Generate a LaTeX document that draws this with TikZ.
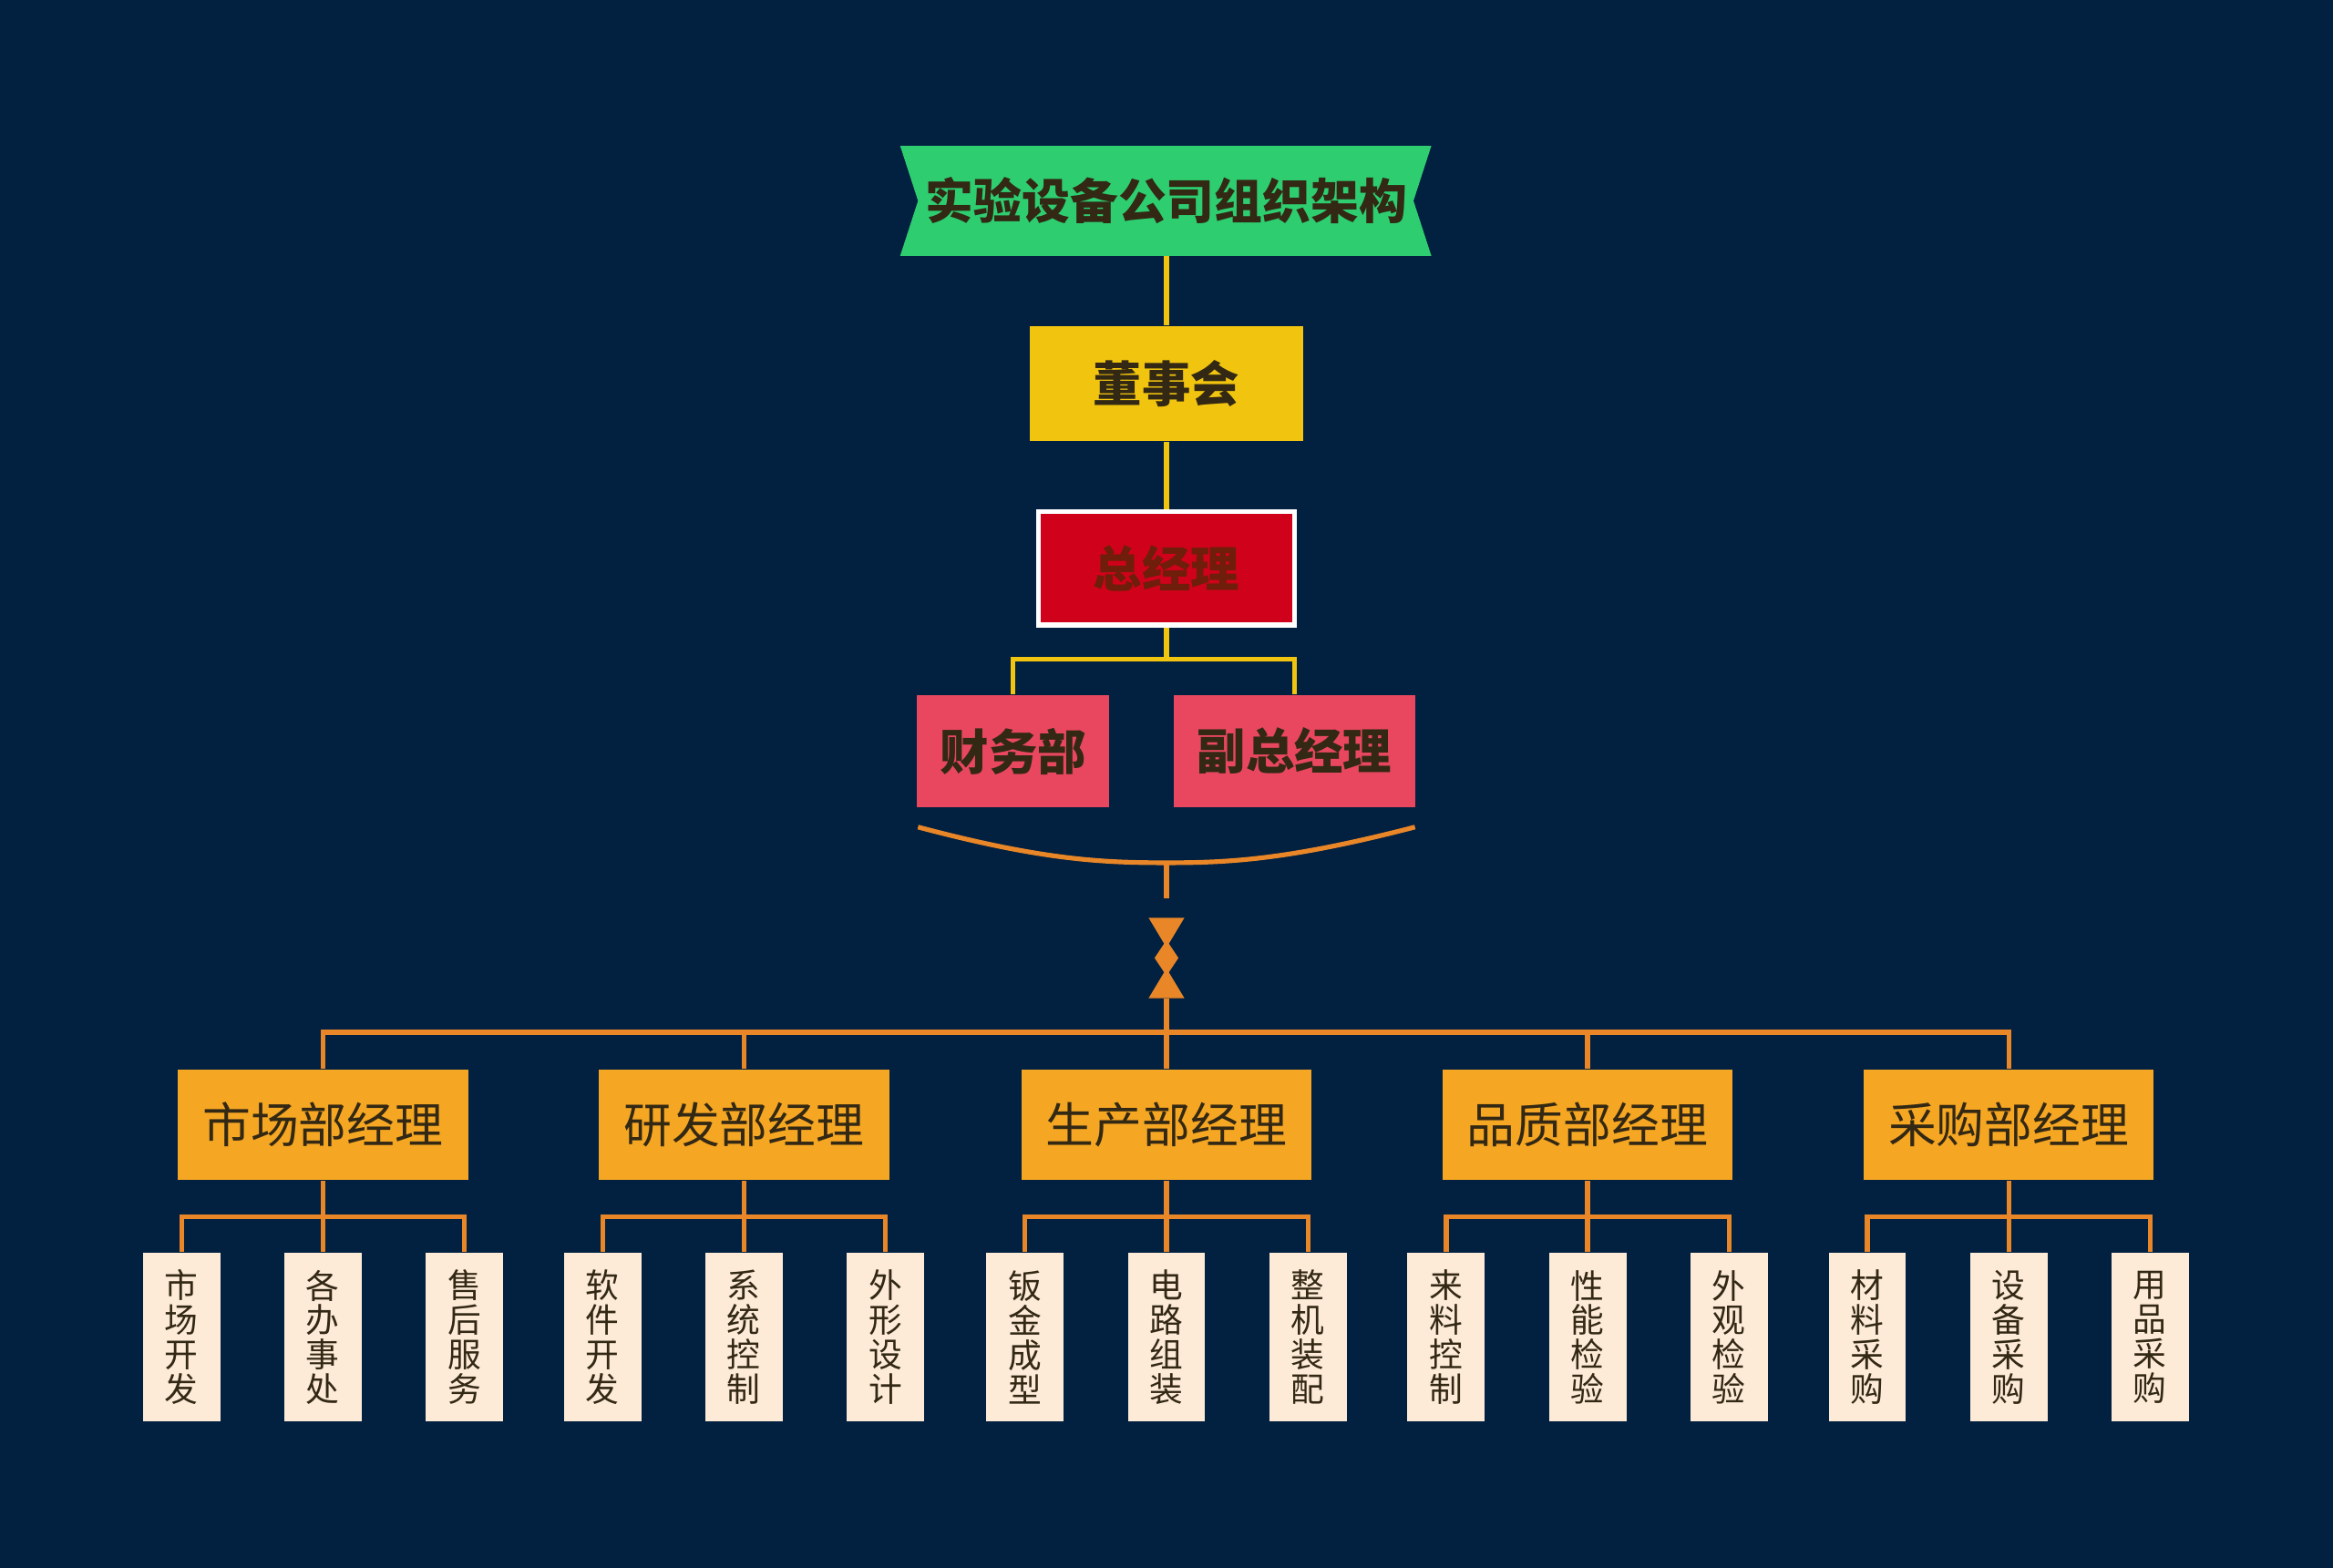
\documentclass[tikz,border=0pt]{standalone}
\usepackage{fontspec}
\setmainfont{Noto Sans CJK SC}
\usetikzlibrary{positioning}
\definecolor{bgnavy}{RGB}{2,32,64}
\definecolor{titlegreen}{RGB}{46,206,112}
\definecolor{boardyellow}{RGB}{241,196,15}
\definecolor{gmred}{RGB}{208,2,27}
\definecolor{vpred}{RGB}{232,71,95}
\definecolor{mgrorange}{RGB}{245,166,35}
\definecolor{lineorange}{RGB}{232,134,40}
\definecolor{leafcream}{RGB}{253,235,216}
\definecolor{textdark}{RGB}{50,40,20}
\tikzset{
  topbox/.style={draw=none, minimum width=1.84cm, minimum height=0.77cm, inner sep=0pt, font=\bfseries\fontsize{9.3}{11}\selectfont, text=textdark},
  mgrbox/.style={fill=mgrorange, minimum width=1.95cm, minimum height=0.74cm, inner sep=0pt, font=\fontsize{9.2}{11}\selectfont, text=textdark},
  leafbox/.style={fill=leafcream, minimum width=0.52cm, minimum height=1.13cm, inner sep=0pt, align=center, font=\fontsize{6.4}{6.6}\selectfont, text=textdark},
  yline/.style={draw=boardyellow, line width=0.9pt},
  oline/.style={draw=lineorange, line width=0.9pt}
}
\begin{document}
\begin{tikzpicture}[x=0.01cm, y=-0.01cm]

% Background
\fill[bgnavy] (0,0) rectangle (1568,1054);
\useasboundingbox (0,0) rectangle (1568,1054);

% Title ribbon
\fill[titlegreen] (605,98) -- (962,98) -- (950,135) -- (962,172) -- (605,172) -- (617,135) -- cycle;
\node[font=\bfseries\fontsize{9.2}{11}\selectfont, text=textdark] (title) at (784,135) {实验设备公司组织架构};
\coordinate (titleb) at (784,172);

% Board and general manager
\node[topbox, fill=boardyellow] (board) at (784,258) {董事会};
\node[topbox, fill=gmred, draw=white, line width=1pt, minimum width=1.72cm, minimum height=0.76cm, text={rgb,255:red,110;green,30;blue,10}] (gm) at (784,382) {总经理};
\node[topbox, fill=vpred, minimum width=1.29cm, minimum height=0.75cm] (fin) at (681,505) {财务部};
\node[topbox, fill=vpred, minimum width=1.62cm, minimum height=0.75cm] (vp) at (870,505) {副总经理};

% Yellow connections
\draw[yline] (titleb) -- (board.north);
\draw[yline] (board.south) -- (gm.north);
\draw[yline] (gm.south) -- (784,443) -| (fin.north);
\draw[yline] (784,443) -| (vp.north);

% Bracket and hourglass
\coordinate (brl) at (617,556);
\coordinate (brr) at (951,556);
\coordinate (brm) at (784,580);
\draw[oline] (brl) .. controls (700,578) and (740,580) .. (brm) .. controls (826,580) and (866,578) .. (brr);
\draw[oline] (brm) -- (784,604);
\fill[lineorange] (772,617) -- (796,617) -- (784,637) -- cycle;
\fill[lineorange] (784,632) -- (792,644) -- (784,656) -- (776,644) -- cycle;
\fill[lineorange] (784,651) -- (796,671) -- (772,671) -- cycle;
\coordinate (hub) at (784,671);
\coordinate (bus) at (784,694);
\draw[oline] (hub) -- (bus);

% Managers and their units
\foreach \i/\cx/\name/\a/\b/\c in {
  1/217/市场部经理/市\\场\\开\\发/各\\办\\事\\处/售\\后\\服\\务,
  2/500/研发部经理/软\\件\\开\\发/系\\统\\控\\制/外\\形\\设\\计,
  3/784/生产部经理/钣\\金\\成\\型/电\\路\\组\\装/整\\机\\装\\配,
  4/1067/品质部经理/来\\料\\控\\制/性\\能\\检\\验/外\\观\\检\\验,
  5/1350/采购部经理/材\\料\\采\\购/设\\备\\采\\购/用\\品\\采\\购} {
    \node[mgrbox] (m\i) at (\cx,756) {\name};
    \node[leafbox] (l\i a) at (\cx-95,899) {\a};
    \node[leafbox] (l\i b) at (\cx,899) {\b};
    \node[leafbox] (l\i c) at (\cx+95,899) {\c};
    \draw[oline] (m\i.south) -- (\cx,818) -| (l\i a.north);
    \draw[oline] (\cx,818) -- (l\i b.north);
    \draw[oline] (\cx,818) -| (l\i c.north);
}

% Bus to managers
\draw[oline] (m1.north) |- (bus) -| (m5.north);
\foreach \i in {2,3,4} {
    \draw[oline] (m\i.north) -- (m\i.north |- bus);
}

\end{tikzpicture}
\end{document}
